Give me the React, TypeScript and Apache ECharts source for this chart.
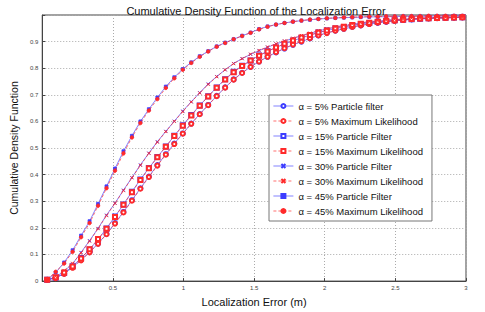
import React, { useEffect, useRef } from "react";
import * as echarts from "echarts";

const titleText = "Cumulative Density Function of the Localization Error";
const xAxisName = "Localization Error (m)";
const yAxisName = "Cumulative Density Function";

const xValues = [
  0.035, 0.095, 0.155, 0.215, 0.275, 0.335, 0.395, 0.455, 0.515, 0.575,
  0.635, 0.695, 0.755, 0.815, 0.875, 0.935, 0.995, 1.055, 1.115, 1.175,
  1.235, 1.295, 1.355, 1.415, 1.475, 1.535, 1.595, 1.655, 1.715, 1.775,
  1.835, 1.895, 1.955, 2.015, 2.075, 2.135, 2.195, 2.255, 2.315, 2.375,
  2.435, 2.495, 2.555, 2.615, 2.675, 2.735, 2.795, 2.855, 2.915, 2.975,
];

const pf5 = [
  0.005, 0.012, 0.028, 0.052, 0.080, 0.109, 0.141, 0.177, 0.218, 0.260,
  0.304, 0.349, 0.393, 0.436, 0.477, 0.517, 0.555, 0.592, 0.628, 0.662,
  0.696, 0.728, 0.758, 0.783, 0.805, 0.825, 0.843, 0.859, 0.874, 0.888,
  0.900, 0.912, 0.923, 0.933, 0.941, 0.948, 0.955, 0.961, 0.966, 0.970,
  0.974, 0.978, 0.981, 0.983, 0.985, 0.987, 0.988, 0.989, 0.990, 0.991,
];
const ml5 = [
  0.005, 0.011, 0.027, 0.050, 0.078, 0.108, 0.140, 0.176, 0.216, 0.258,
  0.302, 0.347, 0.391, 0.434, 0.475, 0.515, 0.554, 0.591, 0.627, 0.661,
  0.695, 0.727, 0.757, 0.782, 0.805, 0.825, 0.843, 0.860, 0.875, 0.889,
  0.901, 0.913, 0.923, 0.932, 0.941, 0.948, 0.955, 0.961, 0.966, 0.971,
  0.975, 0.978, 0.981, 0.984, 0.986, 0.987, 0.988, 0.989, 0.990, 0.991,
];
const pf15 = [
  0.005, 0.013, 0.030, 0.056, 0.087, 0.119, 0.156, 0.198, 0.243, 0.288,
  0.336, 0.382, 0.425, 0.466, 0.506, 0.546, 0.586, 0.624, 0.660, 0.695,
  0.728, 0.759, 0.787, 0.809, 0.829, 0.848, 0.864, 0.878, 0.891, 0.903,
  0.914, 0.924, 0.934, 0.942, 0.949, 0.955, 0.961, 0.966, 0.970, 0.974,
  0.977, 0.980, 0.982, 0.984, 0.986, 0.988, 0.989, 0.990, 0.991, 0.992,
];
const ml15 = [
  0.005, 0.014, 0.032, 0.055, 0.085, 0.120, 0.158, 0.197, 0.241, 0.287,
  0.334, 0.380, 0.424, 0.465, 0.505, 0.545, 0.584, 0.622, 0.659, 0.694,
  0.727, 0.758, 0.785, 0.808, 0.829, 0.847, 0.863, 0.878, 0.892, 0.904,
  0.915, 0.925, 0.934, 0.942, 0.950, 0.956, 0.962, 0.967, 0.971, 0.975,
  0.978, 0.980, 0.983, 0.985, 0.987, 0.988, 0.989, 0.990, 0.991, 0.992,
];
const pf30 = [
  0.005, 0.015, 0.038, 0.065, 0.108, 0.152, 0.198, 0.248, 0.293, 0.342,
  0.389, 0.437, 0.481, 0.524, 0.563, 0.601, 0.639, 0.674, 0.708, 0.741,
  0.769, 0.794, 0.818, 0.836, 0.852, 0.866, 0.879, 0.891, 0.902, 0.912,
  0.922, 0.931, 0.940, 0.948, 0.954, 0.960, 0.965, 0.970, 0.974, 0.977,
  0.980, 0.982, 0.984, 0.986, 0.988, 0.989, 0.990, 0.991, 0.992, 0.993,
];
const ml30 = [
  0.005, 0.017, 0.040, 0.067, 0.106, 0.150, 0.197, 0.246, 0.292, 0.340,
  0.388, 0.435, 0.480, 0.522, 0.562, 0.600, 0.637, 0.673, 0.707, 0.739,
  0.768, 0.794, 0.817, 0.836, 0.853, 0.867, 0.880, 0.892, 0.903, 0.913,
  0.923, 0.932, 0.941, 0.948, 0.955, 0.961, 0.966, 0.971, 0.975, 0.978,
  0.981, 0.983, 0.985, 0.987, 0.988, 0.990, 0.991, 0.992, 0.993, 0.993,
];
const pf45 = [
  0.005, 0.032, 0.070, 0.116, 0.171, 0.225, 0.290, 0.356, 0.423, 0.488,
  0.546, 0.600, 0.646, 0.690, 0.731, 0.766, 0.797, 0.822, 0.845, 0.864,
  0.882, 0.896, 0.909, 0.922, 0.934, 0.947, 0.957, 0.964, 0.970, 0.975,
  0.979, 0.982, 0.985, 0.987, 0.989, 0.990, 0.991, 0.992, 0.993, 0.993,
  0.994, 0.994, 0.995, 0.995, 0.995, 0.996, 0.996, 0.996, 0.997, 0.997,
];
const ml45 = [
  0.005, 0.035, 0.066, 0.110, 0.165, 0.218, 0.283, 0.349, 0.415, 0.480,
  0.540, 0.594, 0.641, 0.684, 0.726, 0.762, 0.794, 0.820, 0.843, 0.863,
  0.881, 0.895, 0.909, 0.921, 0.933, 0.946, 0.956, 0.964, 0.970, 0.975,
  0.979, 0.983, 0.985, 0.988, 0.989, 0.991, 0.992, 0.993, 0.994, 0.994,
  0.995, 0.995, 0.996, 0.996, 0.996, 0.997, 0.997, 0.997, 0.997, 0.997,
];

const seriesNames = [
  "\u03b1 = 5% Particle filter",
  "\u03b1 = 5% Maximum Likelihood",
  "\u03b1 = 15% Particle Filter",
  "\u03b1 = 15% Maximum Likelihood",
  "\u03b1 = 30% Particle Filter",
  "\u03b1 = 30% Maximum Likelihood",
  "\u03b1 = 45% Particle Filter",
  "\u03b1 = 45% Maximum Likelihood",
];

const BLUE = "#3c3cff";
const RED = "#ff2a2a";
const X_SYMBOL = "path://M0,0L10,10M10,0L0,10";

export default function App() {
  const ref = useRef<HTMLDivElement>(null);

  useEffect(() => {
    if (!ref.current) return;
    const chart = echarts.init(ref.current, null, { renderer: "svg" });

    const ys = [pf5, ml5, pf15, ml15, pf30, ml30, pf45, ml45];
    const symbols = [
      "emptyCircle", "emptyCircle",
      "emptyRect", "emptyRect",
      X_SYMBOL, X_SYMBOL,
      "rect", "circle",
    ];
    const sizes = [4, 4, 4, 4, 3, 3, 3, 3.5];

    const series = ys.map((arr, i) => {
      const isPF = i % 2 === 0;
      const color = isPF ? BLUE : RED;
      const isX = symbols[i] === X_SYMBOL;
      return {
        name: seriesNames[i],
        type: "line",
        data: xValues.map((x, k) => [x, arr[k]]),
        symbol: symbols[i],
        symbolSize: sizes[i],
        showSymbol: true,
        silent: true,
        lineStyle: {
          color,
          width: 0.8,
          type: isPF ? "solid" : [3, 2],
          opacity: isPF ? 0.8 : 0.85,
        },
        itemStyle: isX
          ? { color: "transparent", borderColor: color, borderWidth: 0.9 }
          : { color, borderColor: color, borderWidth: 0.8 },
        emphasis: { disabled: true },
        z: isPF ? 2 : 3,
      };
    });

    chart.setOption({
      animation: false,
      backgroundColor: "#ffffff",
      textStyle: { fontFamily: "Liberation Sans, Arial, sans-serif" },
      title: {
        text: titleText,
        left: 251,
        textAlign: "center",
        top: 0,
        textStyle: {
          fontSize: 11,
          fontWeight: "normal",
          color: "#111",
          fontFamily: "Liberation Sans, Arial, sans-serif",
        },
      },
      grid: {
        left: 36.5,
        right: 19,
        top: 15,
        bottom: 24,
        show: true,
        borderColor: "#444",
        borderWidth: 1,
        backgroundColor: "transparent",
      },
      legend: {
        orient: "vertical",
        left: 269,
        top: 95,
        padding: [5, 9, 4, 4],
        itemWidth: 20,
        itemHeight: 5,
        itemGap: 3,
        backgroundColor: "#fff",
        borderColor: "#777",
        borderWidth: 1,
        borderRadius: 0,
        lineStyle: { width: 0.8 },
        textStyle: {
          fontSize: 9.5,
          lineHeight: 12,
          color: "#111",
          fontFamily: "Liberation Sans, Arial, sans-serif",
        },
        data: seriesNames,
      },
      xAxis: {
        type: "value",
        min: 0,
        max: 3,
        interval: 0.5,
        name: xAxisName,
        nameLocation: "middle",
        nameGap: 10,
        nameTextStyle: { fontSize: 11, color: "#111" },
        axisLine: { show: true, lineStyle: { color: "#444" } },
        axisTick: { show: true, inside: true, length: 3, lineStyle: { color: "#444" } },
        axisLabel: {
          fontSize: 6,
          color: "#444",
          margin: 4,
          formatter: (v: number) => (v === 0 ? "" : String(v)),
        },
        splitLine: { show: true, lineStyle: { color: "#aaa", type: [1, 2], width: 1 } },
      },
      yAxis: {
        type: "value",
        min: 0,
        max: 1,
        interval: 0.1,
        name: yAxisName,
        nameLocation: "middle",
        nameGap: 12,
        nameTextStyle: { fontSize: 10.5, color: "#111" },
        axisLine: { show: true, lineStyle: { color: "#444" } },
        axisTick: { show: true, inside: true, length: 3, lineStyle: { color: "#444" } },
        axisLabel: {
          fontSize: 6,
          color: "#444",
          margin: 4,
          formatter: (v: number) => (v >= 1 ? "" : String(Math.round(v * 10) / 10)),
        },
        splitLine: { show: true, lineStyle: { color: "#aaa", type: [1, 2], width: 1 } },
      },
      series,
    });

    return () => {
      chart.dispose();
    };
  }, []);

  return (
    <div
      ref={ref}
      style={{ position: "fixed", left: 0, top: 0, width: 485, height: 312, background: "#fff" }}
    />
  );
}
